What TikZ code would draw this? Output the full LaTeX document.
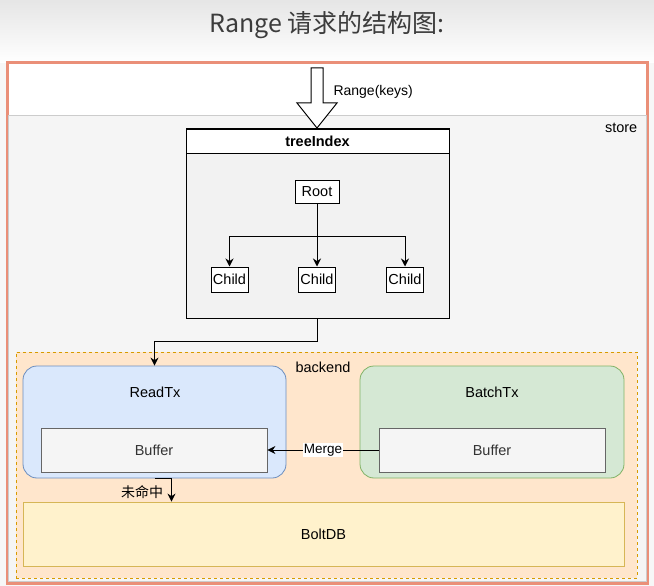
\documentclass[tikz,border=0pt]{standalone}
\usepackage{fontspec}
\setmainfont{Liberation Sans}
\newfontfamily\cjk{Noto Sans CJK SC}
\definecolor{salmon}{RGB}{234,143,120}
\definecolor{storegray}{RGB}{245,245,245}
\definecolor{peach}{RGB}{255,230,204}
\definecolor{peachline}{RGB}{215,155,0}
\definecolor{readblue}{RGB}{218,232,252}
\definecolor{readline}{RGB}{108,142,191}
\definecolor{batchgreen}{RGB}{213,232,212}
\definecolor{batchline}{RGB}{130,179,102}
\definecolor{boltyellow}{RGB}{255,242,204}
\definecolor{boltline}{RGB}{214,182,86}
\definecolor{titlegray}{RGB}{60,60,60}
\usetikzlibrary{arrows.meta,positioning,calc}

\begin{document}
\begin{tikzpicture}[x=1pt,y=-1pt,
      arr/.style={-{Stealth[length=8pt,width=8pt]},line width=1pt},
      t/.style={font=\fontsize{14.5}{17}\selectfont,text=black},
      b/.style={draw=black,fill=white,line width=1pt,inner sep=0pt,t},
      tx/.style={rounded corners=14pt,line width=0.8pt,inner sep=0pt},
      buf/.style={draw=black!60,fill=storegray,line width=0.8pt,inner sep=0pt,
                  minimum width=226pt,minimum height=44pt,t,text=black!80}]
  \useasboundingbox (0,0) rectangle (654,586);
  % background and title
  \fill[storegray!80] (0,0) rectangle (654,586);
  \shade[top color=black!10,bottom color=white] (0,0) rectangle (654,63);
  \node[font=\cjk\fontsize{25}{28}\selectfont,text=titlegray] (title) at (327,25) {Range 请求的结构图:};

  % store
  \node[draw=salmon,fill=white,line width=3pt,minimum width=640pt,minimum height=520pt,
        inner sep=0pt] (outer) at (327,323) {};
  \node[draw=black!20,fill=storegray,line width=0.8pt,minimum width=638pt,minimum height=466pt,
        inner sep=0pt,anchor=north west] (store) at (8,115) {};
  \node[t,anchor=north east] (storelbl) at ([xshift=-6pt,yshift=-5pt]store.north east) {store};

  % treeIndex
  \node[b,fill=black!5,minimum width=263pt,minimum height=189pt] (tree) at (317.5,223.5) {};
  \node[b,minimum width=263pt,minimum height=24pt,font=\bfseries\fontsize{14.5}{17}\selectfont]
        (treehead) at (317.5,141) {treeIndex};
  \node[b,minimum width=44pt,minimum height=23pt] (root) at (317,191.5) {Root};
  \node[b,minimum width=37pt,minimum height=25pt] (c1) at (229.5,279.5) {Child};
  \node[b,minimum width=37pt,minimum height=25pt] (c2) at (317,279.5) {Child};
  \node[b,minimum width=37pt,minimum height=25pt] (c3) at (405,279.5) {Child};
  \coordinate (split) at (317,236);
  \draw[line width=1pt] (root.south) -- (split);
  \draw[arr] (split) -| (c1.north);
  \draw[arr] (split) -| (c3.north);
  \draw[arr] (split) -- (c2.north);

  % Range(keys) block arrow
  \draw[fill=white,line width=1pt] (311,68) -- (323,68) -- (323,103) -- (337,103)
        -- (317,128) -- (297,103) -- (311,103) -- cycle;
  \node[t,font=\fontsize{14}{16}\selectfont,anchor=west] (rangelbl) at (330,92) {Range(keys)};

  % backend
  \node[draw=peachline,fill=peach,dashed,line width=0.9pt,minimum width=621pt,
        minimum height=226pt,inner sep=0pt] (backend) at (326.5,465) {};
  \node[t] (backendlbl) at (323,367) {backend};
  \node[tx,draw=readline,fill=readblue,minimum width=263pt,minimum height=112pt] (readtx) at (154.5,422) {};
  \node[t] (readlbl) at (155,392) {ReadTx};
  \node[buf] (rbuf) at (154,450) {Buffer};
  \node[tx,draw=batchline,fill=batchgreen,minimum width=264pt,minimum height=112pt] (batchtx) at (492,422) {};
  \node[t] (batchlbl) at (492,392) {BatchTx};
  \node[buf] (bbuf) at (492,450) {Buffer};
  \node[draw=boltline,fill=boltyellow,line width=0.8pt,minimum width=601pt,minimum height=64pt,
        inner sep=0pt,t] (boltdb) at (323.5,534) {BoltDB};

  % connectors
  \draw[arr] (tree.south) |- ([yshift=24pt]readtx.north) -- (readtx.north);
  \draw[arr] (bbuf.west) -- node[fill=white,inner sep=1pt,t,font=\fontsize{13.5}{15}\selectfont]
        (mergelbl) {Merge} (rbuf.east);
  \draw[arr] (readtx.south) -| ([xshift=17pt]readtx.south |- boltdb.north);
  \node[font=\cjk\fontsize{14}{16}\selectfont] (misslbl) at (142,492) {未命中};
\end{tikzpicture}
\end{document}
